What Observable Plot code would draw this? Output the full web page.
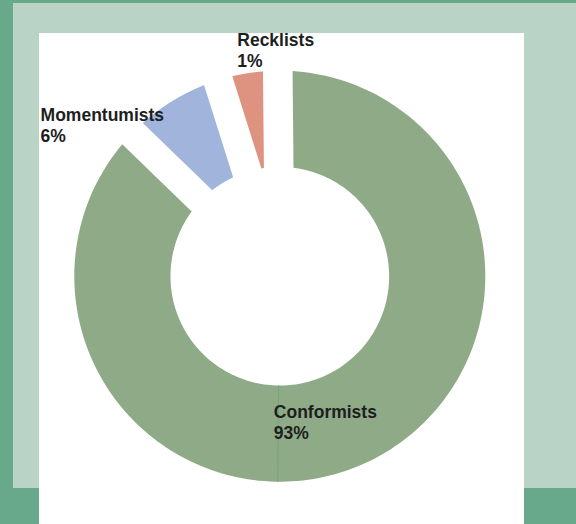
<!DOCTYPE html>
<html><head><meta charset="utf-8">
<script src="https://cdn.jsdelivr.net/npm/d3@7"></script>
<script src="https://cdn.jsdelivr.net/npm/@observablehq/plot@0.6"></script>
<style>
html,body{margin:0;padding:0;width:576px;height:524px;overflow:hidden;background:#69a98b;}
#band{position:absolute;left:13px;top:3px;width:563px;height:484.6px;background:#b9d4c6;}
#panel{position:absolute;left:38.7px;top:33.3px;width:485.1px;height:490.7px;background:#ffffff;}
#chart{position:absolute;left:0;top:0;}
</style></head><body>
<div id="band"></div><div id="panel"></div><div id="chart"></div>
<script>
// ---- data ----
const categories = ["Conformists", "Momentumists", "Recklists"];
const percentLabels = [93, 6, 1];            // printed labels
const arcShares = [87.4, 7.9, 4.7];          // angular share of each slice as drawn (%)
const sliceColors = ["#8eaa87", "#a0b4dc", "#de9380"];

// ---- layout (not data) ----
const startAngle = -0.57;      // degrees clockwise from 12 o'clock
const outerR = 1, innerR = 0.532, halfGap = 0.072;
const seamAngle = 180.6;
const labelPos = [[-0.029, -0.691], [-1.164, 0.753], [-0.207, 1.119]];

const rad = d => d * Math.PI / 180;
const pt = (a, r) => [r * Math.sin(a), r * Math.cos(a)];

const slicePoints = [];
let acc = 0;
categories.forEach((cat, i) => {
  const a0 = rad(startAngle + acc * 3.6);
  acc += arcShares[i];
  const a1 = rad(startAngle + acc * 3.6);
  const oo = Math.asin(halfGap / outerR), io = Math.asin(halfGap / innerR);
  const pts = [];
  const n = 200;
  for (let k = 0; k <= n; k++) {
    const a = (a0 + oo) + (a1 - a0 - 2 * oo) * k / n;
    pts.push(pt(a, outerR));
  }
  const ia0 = a0 + io, ia1 = a1 - io;
  if (ia1 > ia0) {
    for (let k = 0; k <= n; k++) {
      const a = ia1 - (ia1 - ia0) * k / n;
      pts.push(pt(a, innerR));
    }
  } else {
    const mid = (a0 + a1) / 2;
    pts.push(pt(mid, halfGap / Math.sin((a1 - a0) / 2)));
  }
  pts.push(pts[0]);
  pts.forEach(([x, y]) => slicePoints.push({cat, x, y}));
});

const labels = categories.map((cat, i) => ({
  cat, name: cat, pct: percentLabels[i] + "%", x: labelPos[i][0], y: labelPos[i][1]
}));

const seam = [{
  x1: pt(rad(seamAngle), innerR)[0], y1: pt(rad(seamAngle), innerR)[1],
  x2: pt(rad(seamAngle), outerR)[0], y2: pt(rad(seamAngle), outerR)[1]
}];

const cx = 279.3, cy = 275.7, Rpx = 205.5;
const chart = Plot.plot({
  width: 576, height: 524,
  marginLeft: cx - Rpx, marginRight: 576 - (cx + Rpx),
  marginTop: cy - Rpx, marginBottom: 524 - (cy + Rpx),
  x: {domain: [-1, 1], axis: null},
  y: {domain: [-1, 1], axis: null},
  color: {domain: categories, range: sliceColors},
  style: {background: "transparent", overflow: "visible", fontFamily: "'Liberation Sans', Arial, sans-serif"},
  marks: [
    Plot.line(slicePoints, {x: "x", y: "y", z: "cat", fill: "cat", stroke: "none", curve: "linear"}),
    Plot.link(seam, {x1: "x1", y1: "y1", x2: "x2", y2: "y2", stroke: "#74a47d", strokeWidth: 1}),
    Plot.text(labels, {x: "x", y: "y", text: "name", textAnchor: "start", lineAnchor: "bottom",
      fontSize: 17.5, fontWeight: "bold", fill: "#1e1e1e"}),
    Plot.text(labels, {x: "x", y: "y", text: "pct", textAnchor: "start", lineAnchor: "bottom", dy: 20.8,
      fontSize: 17.5, fontWeight: "bold", fill: "#1e1e1e"})
  ]
});
document.getElementById("chart").appendChild(chart);
</script>
</body></html>
